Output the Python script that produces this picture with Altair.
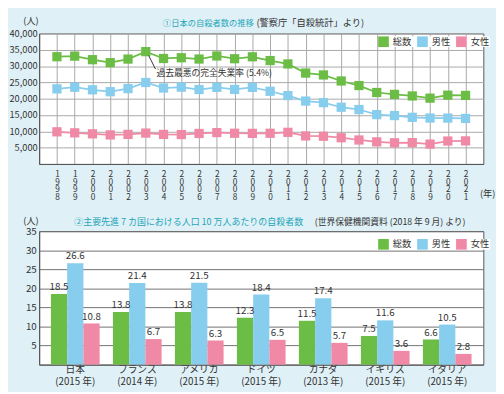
import altair as alt
import pandas as pd

FONT = "Noto Sans CJK JP"
TEAL = "#1ea6b8"
TXT = "#333333"

# ---------- data: chart 1 ----------
years = ["1998", "1999", "2000", "2001", "2002", "2003", "2004", "2005", "2006", "2007", "2008", "2009",
         "2010", "2011", "2012", "2013", "2014", "2015", "2016", "2017", "2018", "2019", "2020", "2021"]
total = [32863, 33048, 31957, 31042, 32143, 34427, 32325, 32552, 32155, 33093, 32249, 32845,
         31690, 30651, 27858, 27283, 25427, 24025, 21897, 21321, 20840, 20169, 21081, 21007]
male = [23013, 23512, 22727, 22144, 23080, 24963, 23272, 23540, 22813, 23478, 22831, 23472,
        22283, 20955, 19273, 18787, 17386, 16681, 15121, 14826, 14290, 14078, 14055, 13939]
female = [9850, 9536, 9230, 8898, 9063, 9464, 9053, 9012, 9342, 9615, 9418, 9373,
          9407, 9696, 8585, 8496, 8041, 7344, 6776, 6495, 6550, 6091, 7026, 7068]
series_names = ["総数", "男性", "女性"]
colors = ["#6cbd45", "#87cdee", "#ef89a5"]
y1_ticks = [5000, 10000, 15000, 20000, 25000, 30000, 35000, 40000]
title1 = "①日本の自殺者数の推移"
source1 = "(警察庁「自殺統計」より)"
note_year = "2003"
note_text = "過去最悪の完全失業率 (5.4%)"

# ---------- data: chart 2 ----------
countries = ["日本", "フランス", "アメリカ", "ドイツ", "カナダ", "イギリス", "イタリア"]
country_years = ["2015 年", "2014 年", "2015 年", "2015 年", "2013 年", "2015 年", "2015 年"]
rate_total = [18.5, 13.8, 13.8, 12.3, 11.5, 7.5, 6.6]
rate_male = [26.6, 21.4, 21.5, 18.4, 17.4, 11.6, 10.5]
rate_female = [10.8, 6.7, 6.3, 6.5, 5.7, 3.6, 2.8]
y2_ticks = [5, 10, 15, 20, 25, 30, 35]
title2 = "②主要先進 7 カ国における人口 10 万人あたりの自殺者数"
source2 = "(世界保健機関資料 (2018 年 9 月) より)"

# ---------- tables ----------
df1 = pd.DataFrame([
    {"year": y, "series": s, "value": float(v)}
    for s, vals in zip(series_names, [total, male, female])
    for y, v in zip(years, vals)
])
ann = pd.DataFrame({"year": [note_year], "series": [series_names[0]],
                    "value": [float(total[years.index(note_year)])], "note": [note_text]})

labels = [f"{c}|({y})" for c, y in zip(countries, country_years)]
df2 = pd.DataFrame([
    {"country": lab, "series": s, "value": v}
    for s, vals in zip(series_names, [rate_total, rate_male, rate_female])
    for lab, v in zip(labels, vals)
])


def legend(y):
    return alt.Legend(orient="none", legendX=348, legendY=y, direction="horizontal", title=None,
                      symbolType="square", symbolSize=120, symbolStrokeWidth=0, symbolOpacity=1,
                      labelFontSize=9.5, labelColor=TXT, labelFont=FONT, labelOffset=4,
                      columnPadding=5, padding=0, fillColor="white")


W = 456

# ---------- chart 1 ----------
x1 = alt.X("year:O", sort=years, scale=alt.Scale(type="point", padding=1),
           axis=alt.Axis(labelAngle=0, labelExpr="split(datum.label, '')", labelFontSize=8.5,
                         labelLineHeight=7.7, labelBaseline="top", labelPadding=6, ticks=False,
                         labelOverlap=False,
                         grid=True, gridColor="#a8a8a8", domainColor="#555",
                         title="(年)", titleFontSize=9.5, titleFontWeight="normal", titleColor=TXT,
                         titleX=460, titleY=30, titleAlign="center", titleBaseline="middle"))
y1 = alt.Y("value:Q", scale=alt.Scale(domain=[0, 40000], nice=False, zero=True),
           axis=alt.Axis(values=y1_ticks, labelExpr="format(datum.value, ',')", ticks=False,
                         labelPadding=2, labelFontSize=9.5, labelOverlap=False,
                         grid=True, gridColor="#a8a8a8", domainColor="#555",
                         title="(人)", titleAngle=0, titleFontSize=9.5, titleFontWeight="normal",
                         titleColor=TXT, titleX=-9, titleY=-13, titleAlign="center",
                         titleBaseline="middle"))
c1 = alt.Color("series:N", scale=alt.Scale(domain=series_names, range=colors), legend=legend(3))

line1 = alt.Chart(df1).mark_line(strokeWidth=1.8).encode(x=x1, y=y1, color=c1)
pts1 = alt.Chart(df1).mark_point(shape="square", filled=True, size=90, opacity=1).encode(
    x=x1, y=y1, color=c1)

rule1 = alt.Chart(ann).mark_rule(color="#333", strokeWidth=1, xOffset=3, yOffset=4,
                                 x2Offset=10, y2Offset=18).encode(
    x=x1, x2="year:O", y=y1, y2="value:Q")
note1 = alt.Chart(ann).mark_text(align="left", baseline="middle", dx=11, dy=22, fontSize=9,
                                 color=TXT, font=FONT).encode(x=x1, y=y1, text="note:N")

t1a = alt.Chart(pd.DataFrame({"t": [title1]})).mark_text(
    align="left", baseline="middle", fontSize=8.5, color=TEAL, font=FONT).encode(
    x=alt.value(127), y=alt.value(-11), text="t:N")
t1b = alt.Chart(pd.DataFrame({"t": [source1]})).mark_text(
    align="left", baseline="middle", fontSize=9.5, color=TXT, font=FONT).encode(
    x=alt.value(223), y=alt.value(-11), text="t:N")

top = alt.layer(line1, pts1, rule1, note1, t1a, t1b).properties(width=W, height=134)

# ---------- chart 2 ----------
x2 = alt.X("country:N", sort=labels, scale=alt.Scale(paddingInner=0.215, paddingOuter=0.19),
           axis=alt.Axis(labelAngle=0, labelExpr="split(datum.label, '|')", labelFontSize=10,
                         labelLineHeight=12, labelBaseline="top", labelPadding=0, ticks=False,
                         grid=False, domainColor="#555", title=None))
y2 = alt.Y("value:Q", scale=alt.Scale(domain=[0, 35], nice=False),
           axis=alt.Axis(values=y2_ticks, ticks=False, labelPadding=3, labelFontSize=10,
                         grid=True, gridColor="#707070", domainColor="#555",
                         title="(人)", titleAngle=0, titleFontSize=9.5, titleFontWeight="normal",
                         titleColor=TXT, titleX=-9, titleY=-11, titleAlign="center",
                         titleBaseline="middle"))
xo = alt.XOffset("series:N", sort=series_names,
                 scale=alt.Scale(domain=series_names, paddingInner=0, paddingOuter=0))
c2 = alt.Color("series:N", scale=alt.Scale(domain=series_names, range=colors), legend=legend(8))

bars2 = alt.Chart(df2).mark_bar().encode(x=x2, y=y2, xOffset=xo, color=c2)
vals2 = alt.Chart(df2).mark_text(baseline="bottom", dy=-2, fontSize=10, color=TXT).encode(
    x=x2, y=y2, xOffset=xo, text=alt.Text("value:Q", format=".1f"))

t2a = alt.Chart(pd.DataFrame({"t": [title2]})).mark_text(
    align="left", baseline="middle", fontSize=9.2, color=TEAL, font=FONT).encode(
    x=alt.value(36), y=alt.value(-9), text="t:N")
t2b = alt.Chart(pd.DataFrame({"t": [source2]})).mark_text(
    align="left", baseline="middle", fontSize=9, color=TXT, font=FONT).encode(
    x=alt.value(283), y=alt.value(-9), text="t:N")

bottom = alt.layer(bars2, vals2, t2a, t2b).properties(width=W, height=137)

chart = alt.vconcat(top, bottom, spacing=69, bounds="flush").resolve_scale(
    color="independent", x="independent", y="independent").resolve_legend(
    color="independent").properties(
    background="#dff0f7",
    padding={"left": 0, "top": 2, "right": 0, "bottom": 0},
).configure(font=FONT).configure_view(fill="white", stroke="#555", strokeWidth=1).configure_axis(
    labelColor=TXT, labelFont=FONT, titleFont=FONT)

chart.save("out.html", embed_options={"renderer": "svg", "actions": False})
